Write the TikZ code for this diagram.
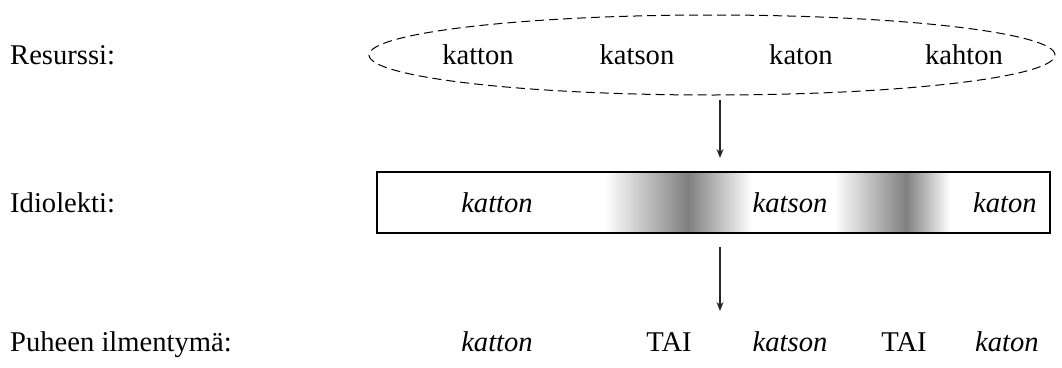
\documentclass[tikz,border=0pt]{standalone}
\usepackage{fontspec}
\setmainfont{Liberation Serif}
\usetikzlibrary{shapes.geometric,arrows.meta}
\begin{document}
\begin{tikzpicture}[x=1pt,y=-1pt,
  txt/.style={inner sep=0pt,anchor=base,font=\fontsize{28.6}{34}\selectfont},
  lbl/.style={txt,anchor=base west},
  word/.style={txt},
  iword/.style={txt,font=\fontsize{28.6}{34}\selectfont\itshape},
  arr/.style={line width=1.3pt,draw=black!85,-{Stealth[length=9pt,width=7pt]}},
  band/.style={draw=none}]
\useasboundingbox (0,0) rectangle (1062,367);
% labels
\node[lbl] (l1) at (10,64) {Resurssi:};
\node[lbl] (l2) at (10,212) {Idiolekti:};
\node[lbl] (l3) at (10,351) {Puheen ilmentymä:};
% resource ellipse
\node[ellipse,draw,dashed,dash pattern=on 9pt off 5pt,line width=1pt,minimum width=686,minimum height=80,inner sep=0pt] (res) at (712,55) {};
\node[word] (r1) at (478,64) {katton};
\node[word] (r2) at (637,64) {katson};
\node[word] (r3) at (801,64) {katon};
\node[word] (r4) at (964,64) {kahton};
% idiolect box shading
\shade[band,left color=white,right color=black!50] (605,172) rectangle (688,233);
\shade[band,left color=black!50,right color=white] (688,172) rectangle (752,233);
\shade[band,left color=white,right color=black!50] (834,172) rectangle (906,233);
\shade[band,left color=black!50,right color=white] (906,172) rectangle (950,233);
\node[draw,line width=1.2pt,minimum width=673,minimum height=61,inner sep=0pt] (idio) at (713.5,202.5) {};
\node[iword] (i1) at (497,212) {katton};
\node[iword] (i2) at (790,212) {katson};
\node[iword] (i3) at (1005,212) {katon};
% speech row
\node[iword] (s1) at (497,351) {katton};
\node[word] (s2) at (669,351) {TAI};
\node[iword] (s3) at (790,351) {katson};
\node[word] (s4) at (904,351) {TAI};
\node[iword] (s5) at (1007,351) {katon};
% arrows
\coordinate (a1s) at (720,100);
\coordinate (a1e) at (720,158);
\coordinate (a2s) at (720,247);
\coordinate (a2e) at (720,311);
\draw[arr] (a1s) -- (a1e);
\draw[arr] (a2s) -- (a2e);
\end{tikzpicture}
\end{document}
